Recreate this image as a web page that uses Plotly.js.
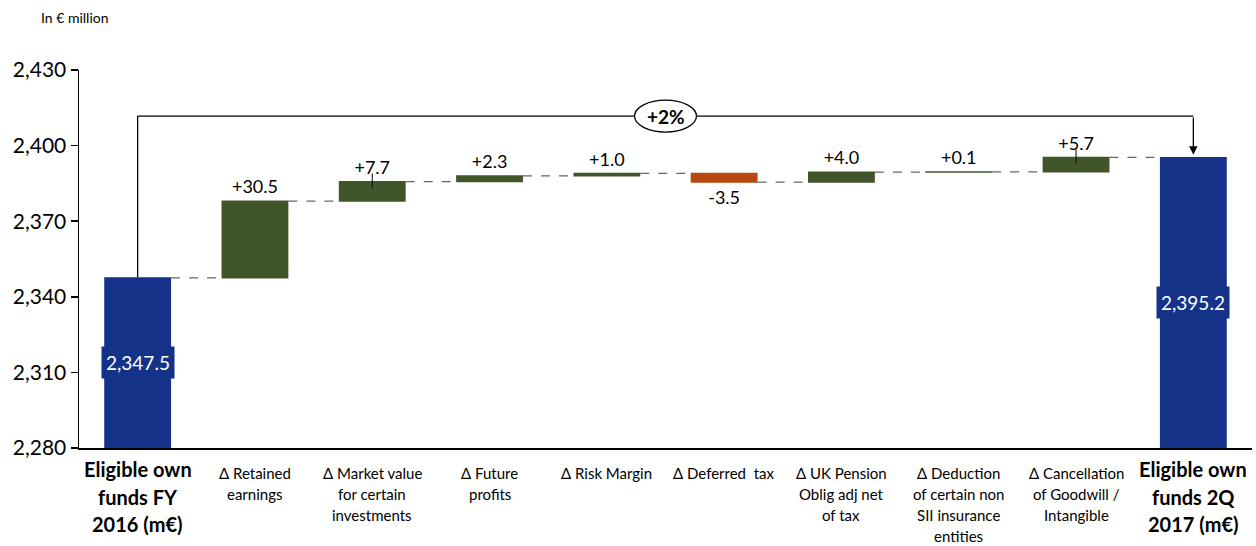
<!DOCTYPE html>
<html><head><meta charset="utf-8">
<script src="https://cdn.plot.ly/plotly-3.0.1.min.js"></script>
<style>html,body{margin:0;padding:0;background:#fff}</style></head>
<body><div id="chart" style="width:1256px;height:546px"></div>
<script>
const categories = ['Start FY2016','Retained earnings','Market value','Future profits','Risk Margin','Deferred tax','UK Pension','Deduction','Cancellation','End 2Q2017'];
const tickLabels = [
  ['Eligible own','funds FY','2016 (m€)'],
  ['Δ Retained','earnings'],
  ['Δ Market value','for certain','investments'],
  ['Δ Future','profits'],
  ['Δ Risk Margin'],
  ['Δ Deferred  tax'],
  ['Δ UK Pension','Oblig adj net','of tax'],
  ['Δ Deduction','of certain non','SII insurance','entities'],
  ['Δ Cancellation','of Goodwill /','Intangible'],
  ['Eligible own','funds 2Q','2017 (m€)']
];
const measures = ['absolute','relative','relative','relative','relative','relative','relative','relative','relative','absolute'];
const values = [2347.5, 30.5, 7.7, 2.3, 1.0, -3.5, 4.0, 0.1, 5.7, 2395.2];
const valueLabels = ['2,347.5','+30.5','+7.7','+2.3','+1.0','-3.5','+4.0','+0.1','+5.7','2,395.2'];
const changeLabel = '+2%';
const yTicks = [2280, 2310, 2340, 2370, 2400, 2430];

const BLUE = '#143388', GREEN = '#41552B', ORANGE = '#B5490F';
const FONT = 'Lato, "Open Sans", sans-serif';
const yMin = 2280, yMax = 2430, bracketY = 2411.7;

// running totals
const tops = [];
let run = 0;
values.forEach((v, i) => { run = measures[i] === 'absolute' ? v : run + v; tops.push(run); });

const trace = {
  type: 'waterfall',
  x: categories,
  y: values,
  measure: measures,
  text: valueLabels.map((t, i) => measures[i] === 'absolute' ? '' : t),
  textposition: measures.map(m => m === 'absolute' ? 'none' : 'outside'),
  textfont: {family: FONT, size: 18, color: '#000'},
  cliponaxis: false,
  width: 0.57,
  increasing: {marker: {color: GREEN}},
  decreasing: {marker: {color: ORANGE}},
  totals: {marker: {color: BLUE}},
  connector: {mode: 'between', line: {color: '#666', width: 1.2, dash: 'dash'}},
  hoverinfo: 'skip'
};

const annotations = [];
const shapes = [];
// total labels centered in the visible part of the bar
values.forEach((v, i) => {
  if (measures[i] === 'absolute') {
    annotations.push({
      x: categories[i], y: (yMin + v) / 2, xref: 'x', yref: 'y',
      text: valueLabels[i], showarrow: false,
      font: {family: FONT, size: 19, color: '#fff'},
      bgcolor: BLUE, borderpad: 4
    });
  }
});
// category labels, one annotation per line
tickLabels.forEach((lines, i) => {
  const bold = measures[i] === 'absolute';
  lines.forEach((ln, k) => {
    annotations.push({
      x: categories[i], y: 0, xref: 'x', yref: 'paper', yanchor: 'middle', xanchor: 'center',
      yshift: bold ? -(21 + k * 27.5) : -(25 + k * 21),
      text: bold ? '<b>' + ln + '</b>' : ln, showarrow: false,
      font: {family: FONT, size: bold ? 20 : 15, color: '#000'}
    });
  });
});
// bracket
const last = values.length - 1;
shapes.push({type: 'line', xref: 'x', yref: 'y', x0: 0, x1: 0, y0: tops[0] + 0.3, y1: bracketY, line: {color: '#000', width: 1.3}});
shapes.push({type: 'line', xref: 'x', yref: 'y', x0: 0, x1: last, y0: bracketY, y1: bracketY, line: {color: '#000', width: 1.3}});
annotations.push({
  x: last, y: tops[last], xref: 'x', yref: 'y', ax: last, ay: bracketY, axref: 'x', ayref: 'y',
  text: '', showarrow: true, arrowhead: 2, arrowsize: 1.3, arrowwidth: 1.3, arrowcolor: '#000', standoff: 3
});
shapes.push({type: 'circle', xref: 'x', yref: 'y', xsizemode: 'pixel', ysizemode: 'pixel',
  xanchor: 4.5, yanchor: bracketY, x0: -31, x1: 31, y0: -16, y1: 16,
  fillcolor: '#fff', line: {color: '#000', width: 1.3}, layer: 'above'});
annotations.push({x: 4.5, y: bracketY, xref: 'x', yref: 'y', text: '<b>' + changeLabel + '</b>', showarrow: false,
  font: {family: FONT, size: 19, color: '#000'}});
// small leader ticks (as in the original)
[2, 8].forEach(i => {
  shapes.push({type: 'line', xref: 'x', yref: 'y', ysizemode: 'pixel', yanchor: tops[i],
    x0: i, x1: i, y0: -6, y1: 8, line: {color: '#000', width: 1}});
});
// unit note
annotations.push({x: -0.034, y: 1.14, xref: 'paper', yref: 'paper', xanchor: 'left', yanchor: 'middle',
  text: 'In € million', showarrow: false, font: {family: FONT, size: 14, color: '#000'}});

const layout = {
  width: 1256, height: 546,
  margin: {l: 79, r: 4, t: 70, b: 98},
  paper_bgcolor: '#fff', plot_bgcolor: '#fff',
  showlegend: false,
  font: {family: FONT, color: '#000'},
  xaxis: {
    type: 'category', range: [-0.5, 9.5],
    showticklabels: false,
    showline: true, linecolor: '#000', linewidth: 1.5, ticks: '', showgrid: false, zeroline: false
  },
  yaxis: {
    range: [yMin, yMax], tickvals: yTicks, tickformat: ',',
    tickfont: {family: FONT, size: 21, color: '#000'},
    showline: true, linecolor: '#000', linewidth: 1.5, ticks: 'outside', ticklen: 7, tickcolor: '#000', tickwidth: 1.5,
    showgrid: false, zeroline: false
  },
  annotations: annotations,
  shapes: shapes
};

Plotly.newPlot('chart', [trace], layout, {displayModeBar: false, staticPlot: true});
</script>
</body></html>
